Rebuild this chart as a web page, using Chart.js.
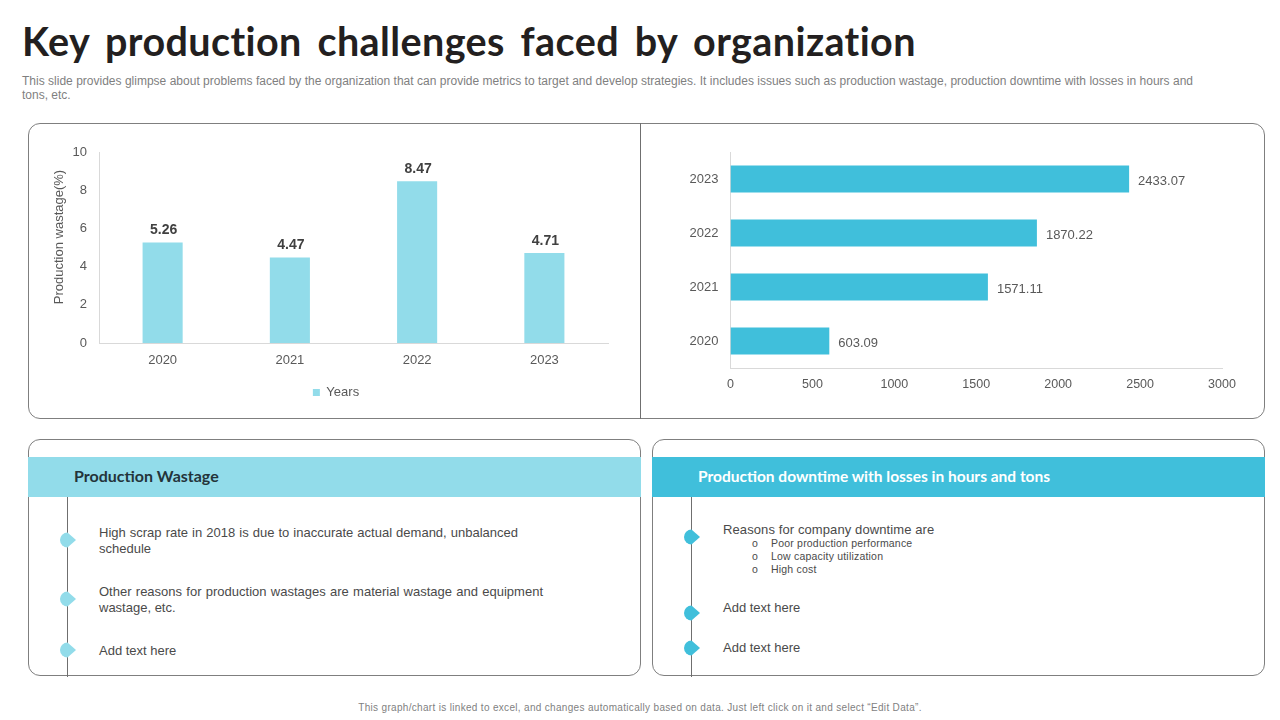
<!DOCTYPE html>
<html>
<head>
<meta charset="utf-8">
<title>Key production challenges faced by organization</title>
<script src="https://cdn.jsdelivr.net/npm/chart.js@4/dist/chart.umd.min.js"></script>
<style>
  html, body { margin: 0; padding: 0; background: #fff; }
  #slide { position: relative; width: 1280px; height: 720px; overflow: hidden; font-family: "Liberation Sans", Arial, sans-serif; color: #404040; }
  #slide div, #slide canvas, #slide svg { position: absolute; }
  .title { left: 22px; top: 17px; font: 700 39.5px Lato, sans-serif; letter-spacing: 0.4px; word-spacing: 5.8px; color: #231f20; white-space: nowrap; }
  .desc { left: 22px; font-size: 12px; line-height: 14px; color: #7f7f7f; white-space: nowrap; }
  .panel { border: 1px solid #7f7f7f; border-radius: 12px; box-sizing: border-box; }
  .band { top: 457px; height: 40px; }
  .band-text { top: 466px; font: 700 15.5px Lato, sans-serif; white-space: nowrap; line-height: 20px; }
  .rail { top: 497px; width: 1px; height: 180px; background: #6f6f6f; }
  .txt { font-size: 13px; line-height: 16px; color: #4a4a4a; white-space: nowrap; }
  .just { text-align-last: justify; white-space: normal; }
  .sub { font-size: 10.5px; line-height: 13px; color: #4a4a4a; white-space: nowrap; letter-spacing: 0.2px; }
  .axis-title { left: -11px; top: 229px; width: 140px; height: 16px; line-height: 16px; text-align: center; font-size: 13px; color: #595959; white-space: nowrap; transform: rotate(-90deg); }
  .foot { left: 0; width: 1280px; top: 701px; text-align: center; font-size: 10px; line-height: 13px; color: #7f7f7f; letter-spacing: 0.32px; }
</style>
</head>
<body>
<div id="slide">
  <div class="title">Key production challenges faced by organization</div>
  <div class="desc" style="top:74px;width:1171px;white-space:normal;text-align-last:justify">This slide provides glimpse about problems faced by the organization that can provide metrics to target and develop strategies. It includes issues such as production wastage, production downtime with losses in hours and</div>
  <div class="desc" style="top:88px">tons, etc.</div>

  <div class="panel" style="left:28px;top:123px;width:1237px;height:296px"></div>
  <div style="left:640px;top:123px;width:1px;height:296px;background:#6f6f6f"></div>
  <canvas id="wastageChart" style="left:30px;top:130px;width:600px;height:285px"></canvas>
  <canvas id="downtimeChart" style="left:650px;top:130px;width:610px;height:285px"></canvas>
  <div class="axis-title">Production wastage(%)</div>

  <div class="panel" style="left:28px;top:439px;width:613px;height:237px"></div>
  <div class="panel" style="left:652px;top:439px;width:613px;height:237px"></div>
  <div class="band" style="left:28px;width:613px;background:#92dcea"></div>
  <div class="band" style="left:652px;width:613px;background:#40bfdb"></div>
  <div class="band-text" style="left:74px;color:#24343a;font-size:16px">Production Wastage</div>
  <div class="band-text" style="left:698px;color:#fff">Production downtime with losses in hours and tons</div>
  <div class="rail" style="left:67px"></div>
  <div class="rail" style="left:691px"></div>

  <svg style="left:60px;top:532px" width="17" height="16"><path d="M7.5 0.5A7.5 7.5 0 1 0 7.5 15.5L16 8Z" fill="#92dcea"/></svg>
  <svg style="left:60px;top:591px" width="17" height="16"><path d="M7.5 0.5A7.5 7.5 0 1 0 7.5 15.5L16 8Z" fill="#92dcea"/></svg>
  <svg style="left:60px;top:642px" width="17" height="16"><path d="M7.5 0.5A7.5 7.5 0 1 0 7.5 15.5L16 8Z" fill="#92dcea"/></svg>
  <svg style="left:684px;top:529px" width="17" height="16"><path d="M7.5 0.5A7.5 7.5 0 1 0 7.5 15.5L16 8Z" fill="#40bfdb"/></svg>
  <svg style="left:684px;top:605px" width="17" height="16"><path d="M7.5 0.5A7.5 7.5 0 1 0 7.5 15.5L16 8Z" fill="#40bfdb"/></svg>
  <svg style="left:684px;top:640px" width="17" height="16"><path d="M7.5 0.5A7.5 7.5 0 1 0 7.5 15.5L16 8Z" fill="#40bfdb"/></svg>

  <div class="txt just" style="left:99px;top:525px;width:419px">High scrap rate in 2018 is due to inaccurate actual demand, unbalanced</div>
  <div class="txt" style="left:99px;top:541px">schedule</div>
  <div class="txt just" style="left:99px;top:584px;width:444px">Other reasons for production wastages are material wastage and equipment</div>
  <div class="txt" style="left:99px;top:600px">wastage, etc.</div>
  <div class="txt" style="left:99px;top:643px">Add text here</div>

  <div class="txt" style="left:723px;top:522px;letter-spacing:.1px">Reasons for company downtime are</div>
  <div class="sub" style="left:752px;top:537px">o</div>
  <div class="sub" style="left:771px;top:537px">Poor production performance</div>
  <div class="sub" style="left:752px;top:550px">o</div>
  <div class="sub" style="left:771px;top:550px">Low capacity utilization</div>
  <div class="sub" style="left:752px;top:563px">o</div>
  <div class="sub" style="left:771px;top:563px">High cost</div>
  <div class="txt" style="left:723px;top:600px">Add text here</div>
  <div class="txt" style="left:723px;top:640px">Add text here</div>

  <div class="foot">This graph/chart is linked to excel, and changes automatically based on data. Just left click on it and select “Edit Data”.</div>
</div>

<script>
// chart data
const wastageYears = ['2020', '2021', '2022', '2023'];
const wastageValues = [5.26, 4.47, 8.47, 4.71];
const wastageTicks = [0, 2, 4, 6, 8, 10];

const downtimeYears = ['2020', '2021', '2022', '2023'];
const downtimeValues = [603.09, 1571.11, 1870.22, 2433.07];
const downtimeTicks = [0, 500, 1000, 1500, 2000, 2500, 3000];

const TICK_COLOR = '#595959';
const AXIS_COLOR = '#d9d9d9';
const FONT = '"Liberation Sans", Arial, sans-serif';

Chart.defaults.animation = false;
Chart.defaults.responsive = false;
Chart.defaults.font.family = FONT;

// draws the number next to each bar
const valueLabels = {
  id: 'valueLabels',
  afterDatasetsDraw(chart, args, opts) {
    const ctx = chart.ctx;
    const meta = chart.getDatasetMeta(0);
    const values = chart.data.datasets[0].data;
    ctx.save();
    ctx.font = opts.font;
    ctx.fillStyle = opts.color;
    meta.data.forEach((bar, i) => {
      if (opts.horizontal) {
        ctx.textAlign = 'left';
        ctx.textBaseline = 'middle';
        ctx.fillText(values[i].toFixed(2), bar.x + 9, bar.y + 2);
      } else {
        ctx.textAlign = 'center';
        ctx.textBaseline = 'bottom';
        ctx.fillText(values[i].toFixed(2), bar.x + 1, bar.y - 5);
      }
    });
    ctx.restore();
  }
};

// the legend sits left of the plot centre on the slide
const legendNudge = {
  id: 'legendNudge',
  afterLayout(chart) {
    chart.legend.left += 12;
  }
};

function sizeCanvas(id, w, h) {
  const c = document.getElementById(id);
  c.width = w;
  c.height = h;
  return c;
}

new Chart(sizeCanvas('wastageChart', 600, 285), {
  type: 'bar',
  data: {
    labels: wastageYears,
    datasets: [{
      label: 'Years',
      data: wastageValues,
      backgroundColor: '#92dcea',
      categoryPercentage: 1,
      barPercentage: 0.315
    }]
  },
  plugins: [valueLabels, legendNudge],
  options: {
    layout: { padding: { left: 22, right: 22, top: 22, bottom: 6 } },
    scales: {
      x: {
        grid: { display: false, drawTicks: false },
        border: { color: AXIS_COLOR },
        ticks: { color: TICK_COLOR, font: { size: 13 }, padding: 10 },
        afterFit(scale) { scale.height = 34; }
      },
      y: {
        min: 0,
        max: 10,
        afterBuildTicks(scale) { scale.ticks = wastageTicks.map(v => ({ value: v })); },
        grid: { display: false, drawTicks: false },
        border: { color: AXIS_COLOR },
        ticks: { color: TICK_COLOR, font: { size: 13 }, padding: 12 },
        afterFit(scale) { scale.width = 47; }
      }
    },
    plugins: {
      tooltip: { enabled: false },
      legend: {
        position: 'bottom',
        labels: { boxWidth: 7, boxHeight: 7, color: TICK_COLOR, font: { size: 13 }, padding: 9 }
      },
      valueLabels: { font: 'bold 14px ' + FONT, color: '#404040' }
    }
  }
});

new Chart(sizeCanvas('downtimeChart', 610, 285), {
  type: 'bar',
  data: {
    labels: downtimeYears,
    datasets: [{
      data: downtimeValues,
      backgroundColor: '#40bfdb',
      categoryPercentage: 1,
      barPercentage: 0.5
    }]
  },
  plugins: [valueLabels],
  options: {
    indexAxis: 'y',
    layout: { padding: { left: 0, right: 38, top: 22, bottom: 0 } },
    scales: {
      x: {
        min: 0,
        max: 3000,
        afterBuildTicks(scale) { scale.ticks = downtimeTicks.map(v => ({ value: v })); },
        grid: { display: false, drawTicks: false },
        border: { color: AXIS_COLOR },
        ticks: { color: TICK_COLOR, font: { size: 12.5 }, padding: 9, maxRotation: 0, callback: v => String(v) },
        afterFit(scale) { scale.height = 47; }
      },
      y: {
        reverse: true,
        grid: { display: false, drawTicks: false },
        border: { color: AXIS_COLOR },
        ticks: { color: TICK_COLOR, font: { size: 13 }, padding: 12 },
        afterFit(scale) { scale.width = 80.5; }
      }
    },
    plugins: {
      tooltip: { enabled: false },
      legend: { display: false },
      valueLabels: { font: '13px ' + FONT, color: '#595959', horizontal: true }
    }
  }
});
</script>
</body>
</html>
